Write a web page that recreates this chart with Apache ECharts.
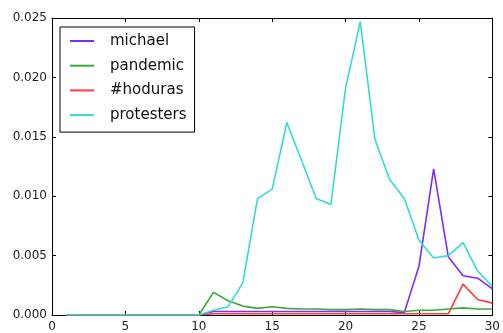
<!DOCTYPE html>
<html>
<head>
<meta charset="utf-8">
<script src="https://cdn.jsdelivr.net/npm/echarts@6/dist/echarts.min.js"></script>
<style>
  html, body { margin: 0; padding: 0; background: #fff; }
  #chart { width: 503px; height: 333px; }
</style>
</head>
<body>
<div id="chart"></div>
<script>
// Days 1..30
const days = Array.from({ length: 30 }, (_, i) => i + 1);

const seriesNames = ['michael', 'pandemic', '#hoduras', 'protesters'];

const michael = [
  0, 0, 0, 0, 0, 0, 0, 0, 0, 0,
  0.0003, 0.0003, 0.0003, 0.0003, 0.0003, 0.0003, 0.0003, 0.0003, 0.0003, 0.0003,
  0.0003, 0.0003, 0.0003, 0.0002, 0.0041, 0.0123, 0.0049, 0.0033, 0.0031, 0.0022
];
const pandemic = [
  0, 0, 0, 0, 0, 0, 0, 0, 0, 0,
  0.0019, 0.0012, 0.00075, 0.00056, 0.0007, 0.00056, 0.0005, 0.0005, 0.00045, 0.00045,
  0.0005, 0.00045, 0.00045, 0.0003, 0.0004, 0.0004, 0.0005, 0.0006, 0.0005, 0.0005
];
const hoduras = [
  0, 0, 0, 0, 0, 0, 0, 0, 0, 0,
  0.0001, 0.0001, 0.0001, 0.0001, 0.0001, 0.0001, 0.0001, 0.0001, 0.0001, 0.0001,
  0.0001, 0.0001, 0.0001, 0.0001, 0.0001, 0.0001, 0.0001, 0.0026, 0.0013, 0.0010
];
const protesters = [
  0, 0, 0, 0, 0, 0, 0, 0, 0, 0,
  0.0004, 0.0007, 0.0027, 0.0098, 0.0106, 0.0162, 0.0130, 0.0098, 0.0093, 0.0191,
  0.0247, 0.0148, 0.0114, 0.0098, 0.0063, 0.0048, 0.0050, 0.0061, 0.0037, 0.0024
];

const xTicks = [0, 5, 10, 15, 20, 25, 30];
const yTicks = [0.000, 0.005, 0.010, 0.015, 0.020, 0.025];

const colors = ['#7f2aff', '#3aa83a', '#ff3c3c', '#36d9d2'];
const values = [michael, pandemic, hoduras, protesters];

const chart = echarts.init(document.getElementById('chart'), null, { renderer: 'canvas' });

const tickFont = { fontFamily: 'DejaVu Sans', fontSize: 12, color: '#222' };
const frameLine = { show: true, onZero: false, lineStyle: { color: '#000', width: 1 } };
const innerTick = { show: true, inside: true, length: 4, lineStyle: { color: '#000', width: 1 } };

function xAxisDef(position, showLabels) {
  return {
    type: 'value', position, min: xTicks[0], max: xTicks[xTicks.length - 1], interval: 5,
    axisLine: frameLine, axisTick: innerTick, splitLine: { show: false },
    axisLabel: showLabels ? { ...tickFont, margin: 6, formatter: v => String(v) } : { show: false }
  };
}
function yAxisDef(position, showLabels) {
  return {
    type: 'value', position, min: yTicks[0], max: yTicks[yTicks.length - 1], interval: 0.005,
    axisLine: frameLine, axisTick: innerTick, splitLine: { show: false },
    axisLabel: showLabels ? { ...tickFont, margin: 5, formatter: v => v.toFixed(3) } : { show: false }
  };
}

chart.setOption({
  animation: false,
  backgroundColor: '#fff',
  grid: { left: 52, right: 6, top: 18, bottom: 16, containLabel: false },
  xAxis: [xAxisDef('bottom', true), xAxisDef('top', false)],
  yAxis: [yAxisDef('left', true), yAxisDef('right', false)],
  legend: {
    orient: 'vertical',
    left: 60, top: 27,
    padding: [5, 8, 8, 10],
    itemGap: 6.7,
    itemWidth: 24,
    itemHeight: 2,
    icon: 'rect',
    backgroundColor: '#fff',
    borderColor: '#000',
    borderWidth: 1,
    borderRadius: 0,
    data: seriesNames,
    textStyle: { fontFamily: 'DejaVu Sans', fontSize: 15, color: '#111', lineHeight: 18, padding: [0, 0, 0, 11] }
  },
  series: seriesNames.map((name, i) => ({
    name,
    type: 'line',
    xAxisIndex: 0, yAxisIndex: 0,
    data: days.map((d, j) => [d, values[i][j]]),
    symbol: 'none',
    z: 2 + i,
    lineStyle: { color: colors[i], width: 1.6 },
    itemStyle: { color: colors[i] }
  }))
});
</script>
</body>
</html>
